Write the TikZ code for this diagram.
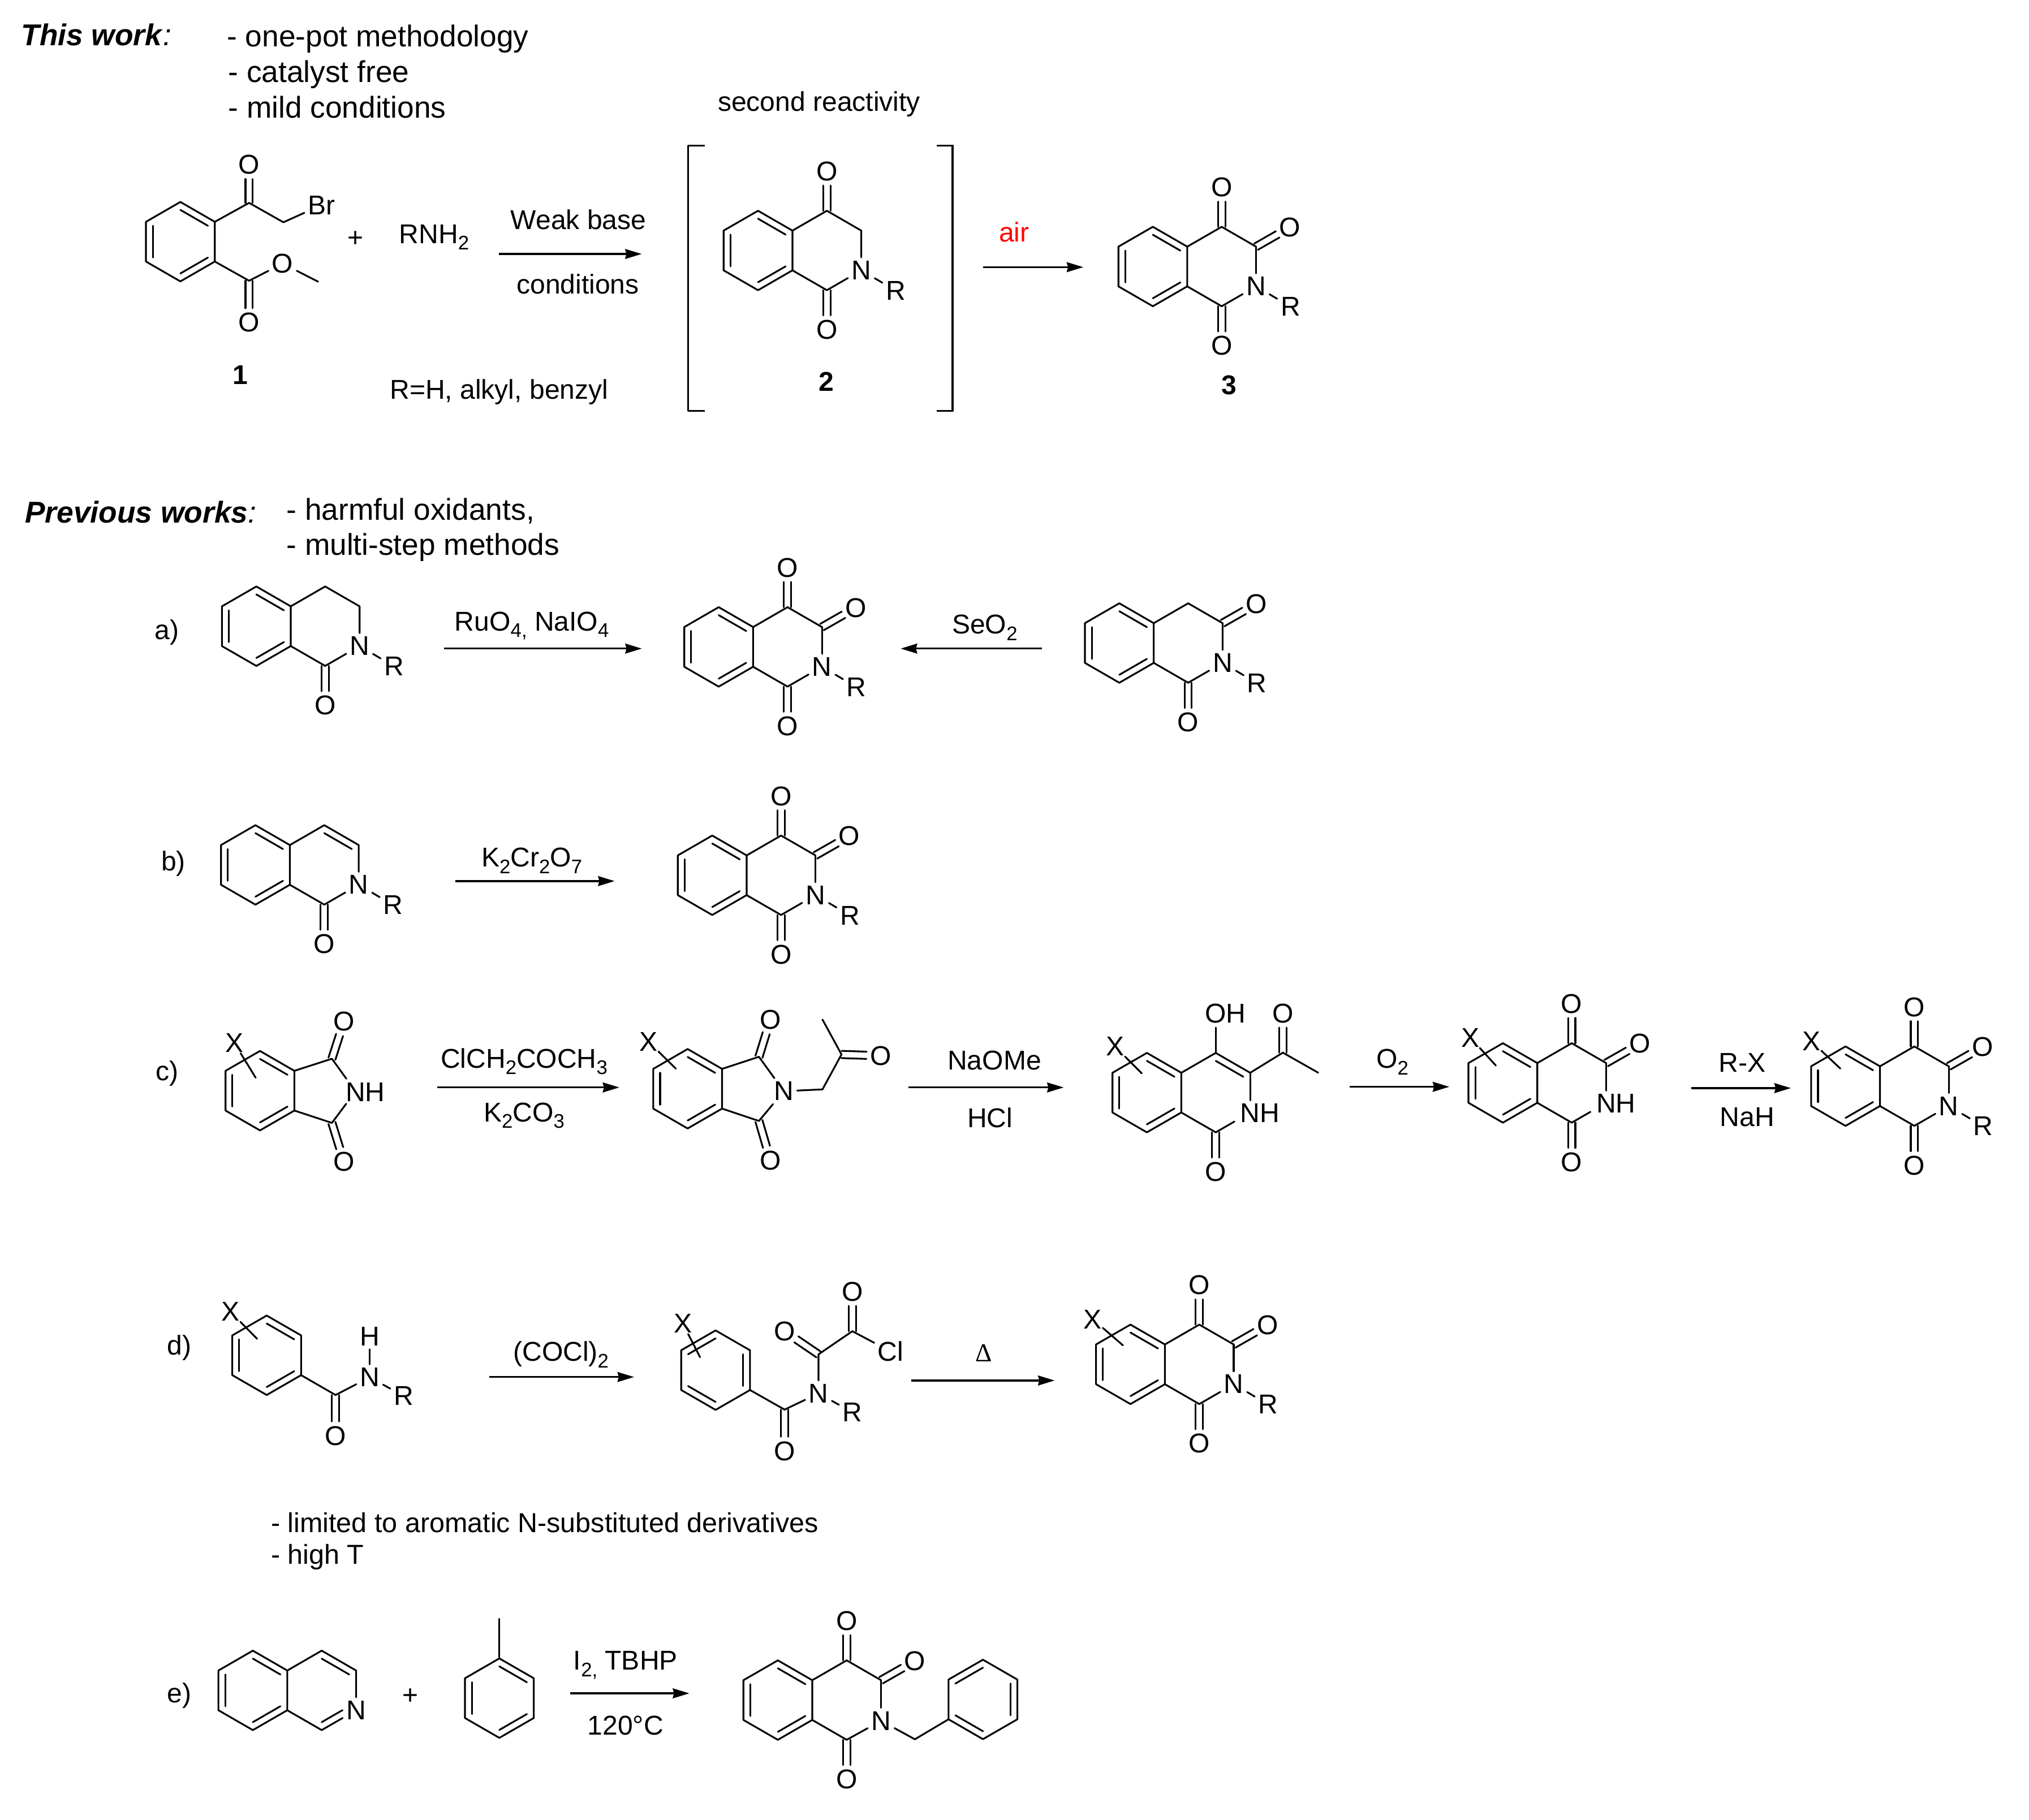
\documentclass[tikz,border=0pt]{standalone}
\usepackage{fontspec}
\setmainfont{Liberation Sans}
\newfontfamily\serifd{Liberation Serif}
\usetikzlibrary{calc,arrows.meta}
\newcommand\lsub[1]{\raisebox{-.24em}{\fontsize{7.6}{8}\selectfont #1}}
\tikzset{
 bond/.style={line width=.68pt,line cap=round,line join=round,black},
 atom/.style={inner sep=1.2pt,font=\fontsize{10.5}{12}\selectfont},
 xatom/.style={inner sep=.2pt,font=\fontsize{10.5}{12}\selectfont},
 lab/.style={inner sep=0pt,anchor=base,font=\fontsize{10.5}{12}\selectfont},
 big/.style={inner sep=0pt,anchor=base west,font=\fontsize{11.65}{14}\selectfont},
 note/.style={inner sep=0pt,anchor=base west,font=\fontsize{10.6}{13}\selectfont},
 rxn/.style={line width=.72pt,black,-{Stealth[length=6.4pt,width=3.8pt,inset=.5pt]}}
}
% geometry of a fused bicycle, origin at the mid point of the fusion bond
\newcommand\coords[3]{%
 \coordinate (#1a) at ({#2},{#3-15.35});
 \coordinate (#1b) at ({#2},{#3+15.35});
 \coordinate (#1p) at ({#2-26.6},{#3-30.7});
 \coordinate (#1q) at ({#2-53.2},{#3-15.35});
 \coordinate (#1r) at ({#2-53.2},{#3+15.35});
 \coordinate (#1t) at ({#2-26.6},{#3+30.7});
 \coordinate (#1m) at ({#2-26.6},{#3});
 \coordinate (#1c4) at ({#2+26.6},{#3-30.7});
 \coordinate (#1c3) at ({#2+53.2},{#3-15.35});
 \coordinate (#1n) at ({#2+53.2},{#3+15.35});
 \coordinate (#1c1) at ({#2+26.6},{#3+30.7});
 \coordinate (#1k) at ({#2+26.6},{#3});
 \coordinate (#1o4) at ({#2+26.6},{#3-61.2});
 \coordinate (#1o3) at ({#2+79.4},{#3-30.3});
 \coordinate (#1o1) at ({#2+26.6},{#3+61.2});
 \coordinate (#1rr) at ({#2+79.8},{#3+31});
}
\newcommand\inb[3]{\draw[bond] ($(#1)!0.2!(#3)$) -- ($(#2)!0.2!(#3)$);}
\newcommand\dbo[2]{%
 \draw[bond] ($(#1.center)!1.4pt!90:(#2.center)$) -- ($($(#2.center)!5.5pt!(#1.center)$)!1.4pt!-90:(#1.center)$);
 \draw[bond] ($(#1.center)!1.4pt!-90:(#2.center)$) -- ($($(#2.center)!5.5pt!(#1.center)$)!1.4pt!90:(#1.center)$);
}
\newcommand\hexa[1]{\draw[bond] (#1p)--(#1a)--(#1b)--(#1t)--(#1r)--(#1q)--cycle;}
\newcommand\benzo[1]{\hexa{#1}\inb{#1p}{#1a}{#1m}\inb{#1q}{#1r}{#1m}\inb{#1t}{#1b}{#1m}}
\newcommand\phen[1]{\hexa{#1}\inb{#1q}{#1p}{#1m}\inb{#1a}{#1b}{#1m}\inb{#1r}{#1t}{#1m}}
\newcommand\oxo[2]{\node[atom] (#1O#2) at (#1o#2) {O};}
\newcommand\tricarb[1]{%
 \oxo{#1}{4}\oxo{#1}{3}\oxo{#1}{1}
 \draw[bond] (#1a)--(#1c4)--(#1c3);
 \draw[bond] (#1b)--(#1c1);
 \dbo{#1c4}{#1O4}\dbo{#1c3}{#1O3}\dbo{#1c1}{#1O1}
}
\newcommand\nr[1]{%
 \node[atom] (#1N) at (#1n) {N};
 \node[atom] (#1R) at (#1rr) {R};
 \draw[bond] (#1c3)--(#1N);
 \draw[bond] (#1c1)--(#1N);
 \draw[bond] (#1N)--(#1R);
}
\newcommand\nh[1]{%
 \node[atom,inner sep=0pt] (#1NH) at ($(#1n)+(7.6,0.5)$) {NH};
 \draw[bond,shorten >=4.7pt] (#1c3)--(#1n);
 \draw[bond,shorten >=7pt] (#1c1)--(#1n);
}
\newcommand\xb[5]{%
 \node[xatom] (#1X) at (#2,#3) {X};
 \coordinate (#1Xe) at (#4,#5);
 \draw[bond] (#1X)--(#1Xe);
}
\begin{document}
\begin{tikzpicture}[x=.5pt,y=-.5pt]
\useasboundingbox (0,0) rectangle (1568,1406.3);
% ---------- header
\node[big] (tw) at (16,35) {\textbf{\textit{This work}}\textit{:}};
\node[big] (tw1) at (175,36) {- one-pot methodology};
\node[big] (tw2) at (176,63.5) {- catalyst free};
\node[big] (tw3) at (176,91) {- mild conditions};
\node[lab] (sr) at (633,86) {second reactivity};
% ---------- compound 1
\coords{A}{166}{186.8}\benzo{A}
\coordinate (Ak) at (192.5,156.8);
\coordinate (Ach) at (219,171.8);
\coordinate (Ae) at (192.5,217);
\coordinate (Ame) at (245.8,217.7);
\node[atom] (AO1) at (192.5,127.4) {O};
\node[atom] (AO2) at (192.5,249.2) {O};
\node[atom] (AOm) at (218.4,203.7) {O};
\node[atom] (ABr) at (248.5,158.5) {Br};
\draw[bond] (Aa)--(Ak)--(Ach)--(ABr);
\dbo{Ak}{AO1}
\draw[bond] (Ab)--(Ae)--(AOm)--(Ame);
\dbo{Ae}{AO2}
\node[lab] (pl1) at (274.8,191) {+};
\node[lab] (rnh) at (335.5,188) {RNH\lsub{2}};
\node[lab] (wb) at (447,177.4) {Weak base};
\node[lab] (cd) at (446.5,227) {conditions};
\coordinate (r1s) at (385.7,196.3);
\coordinate (r1e) at (495.9,196.3);
\draw[rxn] (r1s)--(r1e);
\node[lab] (n1) at (185.5,297) {\textbf{1}};
\node[lab] (rdef) at (385.7,308.4) {R=H, alkyl, benzyl};
% ---------- bracket with 2
\draw[bond,line width=.8pt,line cap=butt] (544.5,112.5)--(531.8,112.5)--(531.8,317.6)--(544.5,317.6);
\draw[bond,line width=.8pt,line cap=butt] (724,112.5)--(736.2,112.5)--(736.2,317.6)--(724,317.6);
\coords{B}{612.4}{193.6}\benzo{B}
\oxo{B}{4}\oxo{B}{1}
\node[atom] (BN) at (Bn) {N};
\node[atom] (BR) at (Brr) {R};
\draw[bond] (Ba)--(Bc4)--(Bc3)--(BN);
\draw[bond] (Bb)--(Bc1)--(BN);
\draw[bond] (BN)--(BR);
\dbo{Bc4}{BO4}\dbo{Bc1}{BO1}
\node[lab] (n2) at (638.8,302.4) {\textbf{2}};
\node[lab,text=red] (air) at (783.7,186.8) {air};
\coordinate (r2s) at (759.6,206.5);
\coordinate (r2e) at (837.2,206.5);
\draw[rxn] (r2s)--(r2e);
% ---------- 3
\coords{C}{917.5}{206}\benzo{C}\tricarb{C}\nr{C}
\node[lab] (n3) at (950,305) {\textbf{3}};
% ---------- previous works
\node[big] (pw) at (19,404) {\textbf{\textit{Previous works}}\textit{:}};
\node[big] (pw1) at (221,402) {- harmful oxidants,};
\node[big] (pw2) at (221,429) {- multi-step methods};
% ---------- a
\node[lab] (la) at (129,494) {a)};
\coords{D}{224.7}{484}\benzo{D}
\oxo{D}{1}
\node[atom] (DN) at (Dn) {N};
\node[atom] (DR) at (Drr) {R};
\draw[bond] (Da)--(Dc4)--(Dc3)--(DN);
\draw[bond] (Db)--(Dc1)--(DN);
\draw[bond] (DN)--(DR);
\dbo{Dc1}{DO1}
\node[lab] (ra1) at (411,487.5) {RuO\lsub{4,} NaIO\lsub{4}};
\coordinate (ras) at (343,501.3);
\coordinate (rae) at (496,501.3);
\draw[rxn] (ras)--(rae);
\coords{E}{582}{500}\benzo{E}\tricarb{E}\nr{E}
\node[lab] (ra2) at (761,490) {SeO\lsub{2}};
\coordinate (rbs) at (805,501.3);
\coordinate (rbe) at (696,501.3);
\draw[rxn] (rbs)--(rbe);
\coords{F}{891.6}{497}\benzo{F}
\oxo{F}{3}\oxo{F}{1}
\node[atom] (FN) at (Fn) {N};
\node[atom] (FR) at (Frr) {R};
\draw[bond] (Fa)--(Fc4)--(Fc3)--(FN);
\draw[bond] (Fb)--(Fc1)--(FN);
\draw[bond] (FN)--(FR);
\dbo{Fc3}{FO3}\dbo{Fc1}{FO1}
% ---------- b
\node[lab] (lb) at (134,673) {b)};
\coords{G}{224}{668.5}\benzo{G}
\oxo{G}{1}
\node[atom] (GN) at (Gn) {N};
\node[atom] (GR) at (Grr) {R};
\draw[bond] (Ga)--(Gc4)--(Gc3)--(GN);
\inb{Gc4}{Gc3}{Gk}
\draw[bond] (Gb)--(Gc1)--(GN);
\draw[bond] (GN)--(GR);
\dbo{Gc1}{GO1}
\node[lab] (rb1) at (411,670) {K\lsub{2}Cr\lsub{2}O\lsub{7}};
\coordinate (rcs) at (352,681);
\coordinate (rce) at (475,681);
\draw[rxn] (rcs)--(rce);
\coords{H}{577}{676.5}\benzo{H}\tricarb{H}\nr{H}
% ---------- c
\node[lab] (lc) at (129,835) {c)};
\coords{I}{227.5}{843}\benzo{I}
\xb{I}{181}{806}{197.6}{833}
\coordinate (Ic1) at (256.5,818.3);
\coordinate (Ic2) at (256.5,867.9);
\coordinate (INc) at (274.7,843.5);
\node[atom,inner sep=0pt] (INH) at (282.3,844) {NH};
\node[atom] (IO1) at (265.8,789.4) {O};
\node[atom] (IO2) at (265.8,898) {O};
\draw[bond] (Ia)--(Ic1);
\draw[bond] (Ib)--(Ic2);
\draw[bond,shorten >=6pt] (Ic1)--(INc);
\draw[bond,shorten >=6pt] (Ic2)--(INc);
\dbo{Ic1}{IO1}\dbo{Ic2}{IO2}
\node[lab] (rc1) at (405,825.4) {ClCH\lsub{2}COCH\lsub{3}};
\node[lab] (rc2) at (405,867) {K\lsub{2}CO\lsub{3}};
\coordinate (rds) at (338,840.5);
\coordinate (rde) at (478.6,840.5);
\draw[rxn] (rds)--(rde);
\coords{J}{558}{841.5}\benzo{J}
\xb{J}{501}{805}{522.3}{826}
\coordinate (Jc1) at (586.5,816.8);
\coordinate (Jc2) at (586.5,866.4);
\coordinate (Jch) at (635.6,842);
\coordinate (Jk) at (650.3,815);
\coordinate (Jme) at (635.6,788);
\node[atom] (JN) at (605.7,843.4) {N};
\node[atom] (JO1) at (595.4,788) {O};
\node[atom] (JO2) at (595.4,897) {O};
\node[atom] (JO3) at (680.6,816) {O};
\draw[bond] (Ja)--(Jc1)--(JN);
\draw[bond] (Jb)--(Jc2)--(JN);
\draw[bond] (JN)--(Jch)--(Jk)--(Jme);
\dbo{Jc1}{JO1}\dbo{Jc2}{JO2}\dbo{Jk}{JO3}
\node[lab] (rd1) at (768.5,826.9) {NaOMe};
\node[lab] (rd2) at (765,871.5) {HCl};
\coordinate (res) at (702,840.5);
\coordinate (ree) at (822,840.5);
\draw[rxn] (res)--(ree);
\coords{K}{912.9}{844.5}\benzo{K}
\xb{K}{861.6}{808.8}{882.3}{829.6}
\node[atom,inner sep=0pt] (KOH) at (947.1,783.2) {OH};
\coordinate (KOc) at (939.5,783.2);
\draw[bond] (Ka)--(Kc4)--(Kc3);
\draw[bond,shorten >=5.5pt] (Kc4)--(KOc);
\inb{Kc4}{Kc3}{Kk}
\draw[bond] (Kb)--(Kc1);
\nh{K}
\oxo{K}{1}\dbo{Kc1}{KO1}
\coordinate (Kk2) at (991.4,813.6);
\coordinate (Kme) at (1018.7,829.1);
\node[atom] (KO2) at (991.4,783.2) {O};
\draw[bond] (Kc3)--(Kk2)--(Kme);
\dbo{Kk2}{KO2}
\node[lab] (re1) at (1076,825.6) {O\lsub{2}};
\coordinate (rfs) at (1043,840);
\coordinate (rfe) at (1120,840);
\draw[rxn] (rfs)--(rfe);
\coords{L}{1188}{837}\benzo{L}
\xb{L}{1136.3}{802}{1156}{823.6}
\tricarb{L}\nh{L}
\node[lab] (rf1) at (1346.5,828.8) {R-X};
\node[lab] (rf2) at (1350.3,870.5) {NaH};
\coordinate (rgs) at (1307,841);
\coordinate (rge) at (1384,841);
\draw[rxn] (rgs)--(rge);
\coords{M}{1452.8}{839.5}\benzo{M}
\xb{M}{1399.7}{804.8}{1422.2}{825.9}
\tricarb{M}\nr{M}
% ---------- d
\node[lab] (ld) at (138.5,1047) {d)};
\coords{N}{232.7}{1047.5}\benzo{N}
\xb{N}{178}{1013.8}{198.7}{1034.8}
\node[atom] (NNa) at (285.7,1064.5) {N};
\node[atom] (NH) at (285.7,1032.8) {H};
\node[atom] (NR) at (312,1079) {R};
\node[atom] (NO) at (259.3,1109.7) {O};
\draw[bond] (Nb)--(Nc1)--(NNa);
\draw[bond] (NNa)--(NH);
\draw[bond] (NNa)--(NR);
\dbo{Nc1}{NO}
\node[lab] (rh1) at (433.5,1052) {(COCl)\lsub{2}};
\coordinate (rhs) at (378,1064.3);
\coordinate (rhe) at (490,1064.3);
\draw[rxn] (rhs)--(rhe);
\coords{P}{579.6}{1059}\phen{P}
\xb{P}{527.7}{1023}{541}{1049}
\coordinate (Pc1) at (606.3,1089.5);
\coordinate (Pch) at (632.5,1046.8);
\coordinate (Pc2) at (658.7,1028.9);
\node[atom] (PN) at (632.5,1077) {N};
\node[atom] (PR) at (658.7,1091.5) {R};
\node[atom] (PO1) at (606.3,1121.5) {O};
\node[atom] (PO2) at (606.3,1029) {O};
\node[atom] (PO3) at (658.7,998.3) {O};
\node[atom] (PCl) at (688.3,1044.6) {Cl};
\draw[bond] (Pb)--(Pc1)--(PN);
\draw[bond] (PN)--(PR);
\draw[bond] (PN)--(Pch)--(Pc2)--(PCl);
\dbo{Pc1}{PO1}\dbo{Pch}{PO2}\dbo{Pc2}{PO3}
\node[lab,font=\fontsize{10}{12}\serifd] (rh2) at (760.3,1052.5) {Δ};
\coordinate (ris) at (704,1067);
\coordinate (rie) at (815,1067);
\draw[rxn] (ris)--(rie);
\coords{Q}{900.2}{1054.5}\benzo{Q}
\xb{Q}{844.4}{1019.6}{867.8}{1039.8}
\tricarb{Q}\nr{Q}
\node[note] (lim1) at (209,1184.3) {- limited to aromatic N-substituted derivatives};
\node[note] (lim2) at (209,1208.8) {- high T};
% ---------- e
\node[lab] (le) at (138.5,1316) {e)};
\coords{S}{222}{1306.5}\benzo{S}
\node[atom] (SN) at (Sn) {N};
\draw[bond] (Sa)--(Sc4)--(Sc3)--(SN);
\draw[bond] (Sb)--(Sc1)--(SN);
\inb{Sc4}{Sc3}{Sk}
\draw[bond,shorten >=3pt] ($(Sc1)!0.2!(Sk)$) -- ($(Sn)!0.2!(Sk)$);
\node[lab] (pl2) at (317,1317.5) {+};
\coords{T}{412.5}{1312.5}\benzo{T}
\coordinate (Tme) at (385.9,1251.2);
\draw[bond] (Tp)--(Tme);
\node[lab] (ri1) at (483.4,1290.8) {I\lsub{2,} TBHP};
\node[lab] (ri2) at (483.4,1340.8) {120°C};
\coordinate (rjs) at (440.7,1308.8);
\coordinate (rje) at (532.7,1308.8);
\draw[rxn] (rjs)--(rje);
\coords{U}{627.7}{1314}\benzo{U}\tricarb{U}
\node[atom] (UN) at (680.9,1330) {N};
\draw[bond] (Uc3)--(UN);
\draw[bond] (Uc1)--(UN);
\coords{V}{786.2}{1313.5}\phen{V}
\coordinate (Vch) at (707,1344.3);
\draw[bond] (UN)--(Vch)--(Vr);
\end{tikzpicture}
\end{document}
